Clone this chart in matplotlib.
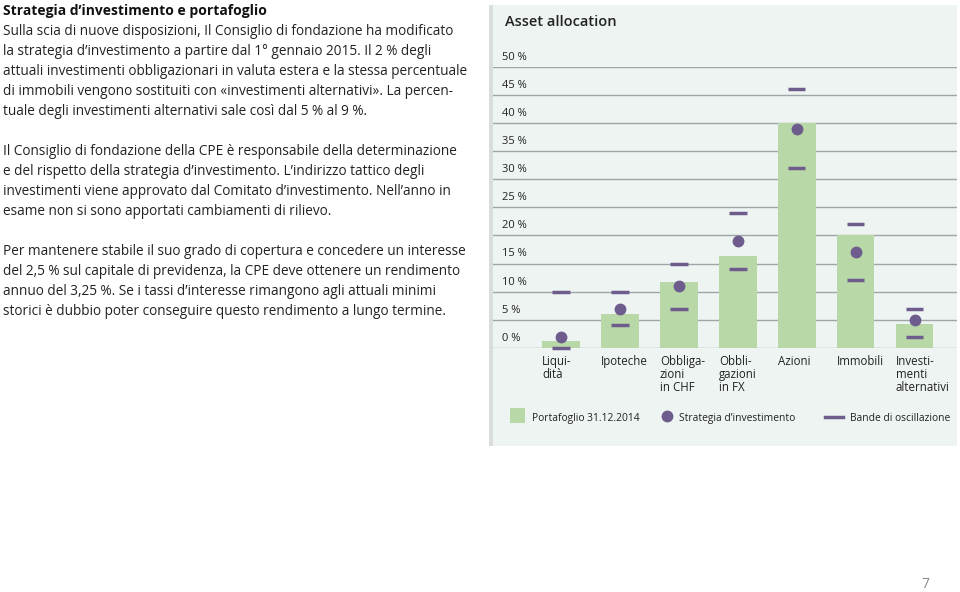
import matplotlib.pyplot as plt
from matplotlib.patches import Rectangle
from matplotlib.lines import Line2D
from matplotlib.transforms import blended_transform_factory, offset_copy

plt.rcParams['font.family'] = ['Open Sans', 'DejaVu Sans']

# dati (in %)
categories = ["Liqui-\ndità", "Ipoteche", "Obbliga-\nzioni\nin CHF", "Obbli-\ngazioni\nin FX",
              "Azioni", "Immobili", "Investi-\nmenti\nalternativi"]
portafoglio = [1.2, 6.0, 11.7, 16.4, 40.0, 20.0, 4.3]
strategia = [2, 7, 11, 19, 39, 17, 5]
banda_min = [0, 4, 7, 14, 32, 12, 2]
banda_max = [10, 10, 15, 24, 46, 22, 7]
y_ticks = [0, 5, 10, 15, 20, 25, 30, 35, 40, 45, 50]

titolo = "Strategia d\u2019investimento e portafoglio"
paragrafi = [
    "Sulla scia di nuove disposizioni, Il Consiglio di fondazione ha modificato\n"
    "la strategia d\u2019investimento a partire dal 1° gennaio 2015. Il 2 % degli\n"
    "attuali investimenti obbligazionari in valuta estera e la stessa percentuale\n"
    "di immobili vengono sostituiti con «investimenti alternativi». La percen-\n"
    "tuale degli investimenti alternativi sale così dal 5 % al 9 %.",
    "Il Consiglio di fondazione della CPE è responsabile della determinazione\n"
    "e del rispetto della strategia d\u2019investimento. L\u2019indirizzo tattico degli\n"
    "investimenti viene approvato dal Comitato d\u2019investimento. Nell\u2019anno in\n"
    "esame non si sono apportati cambiamenti di rilievo.",
    "Per mantenere stabile il suo grado di copertura e concedere un interesse\n"
    "del 2,5 % sul capitale di previdenza, la CPE deve ottenere un rendimento\n"
    "annuo del 3,25 %. Se i tassi d\u2019interesse rimangono agli attuali minimi\n"
    "storici è dubbio poter conseguire questo rendimento a lungo termine.",
]

verde = "#b8d8a8"
viola = "#6e5d8c"
W, H = 960, 592

fig = plt.figure(figsize=(9.6, 5.92), dpi=100)
fig.patch.set_facecolor("white")

# pannello del grafico
fig.add_artist(Rectangle((490 / W, 1 - 446 / H), 467 / W, 441 / H,
                         transform=fig.transFigure, facecolor="#eef4f2", edgecolor="none", zorder=0))
fig.add_artist(Rectangle((489 / W, 1 - 446 / H), 4 / W, 441 / H,
                         transform=fig.transFigure, facecolor="#d9dedc", edgecolor="none", zorder=0))

ax = fig.add_axes([493 / W, 1 - 348 / H, 464 / W, (348 - 66.7) / H])
ax.set_facecolor("none")
x = range(len(categories))
ax.set_xlim(-1.15, 6.72)
ax.set_ylim(0, 50)

for t in y_ticks:
    ax.axhline(t, color="#9ea6a6", lw=1.0, zorder=1)
tr = offset_copy(blended_transform_factory(ax.transAxes, ax.transData), fig=fig, y=3, units="points")
for t in y_ticks:
    ax.text(0.019, t, f"{t} %", transform=tr, fontsize=8, va="bottom", ha="left", color="#222222")

ax.bar(x, portafoglio, width=0.64, color=verde, zorder=2)
ax.hlines(banda_min, [i - 0.15 for i in x], [i + 0.15 for i in x], color=viola, lw=2.5, zorder=3, clip_on=False)
ax.hlines(banda_max, [i - 0.15 for i in x], [i + 0.15 for i in x], color=viola, lw=2.5, zorder=3)
ax.plot(x, strategia, "o", color=viola, markersize=7.5, zorder=4)

for i, lab in zip(x, categories):
    ax.annotate(lab, xy=(i - 0.32, 0), xycoords="data", xytext=(0, -5), textcoords="offset points",
                fontsize=8.3, va="top", ha="left", linespacing=0.98, color="#222222")

ax.set_xticks([])
ax.set_yticks([])
for s in ax.spines.values():
    s.set_visible(False)

fig.text(505 / W, 1 - 22 / H, "Asset allocation", fontsize=10.5, fontweight="semibold",
         va="center", ha="left", color="#222222")

# legenda
fig.add_artist(Rectangle((510 / W, 1 - 423 / H), 15 / W, 15 / H, transform=fig.transFigure,
                         facecolor=verde, edgecolor="none"))
fig.text(532 / W, 1 - 417 / H, "Portafoglio 31.12.2014", fontsize=7.4, va="center_baseline", color="#222222")
fig.add_artist(Line2D([667 / W], [1 - 416 / H], transform=fig.transFigure, marker="o",
                      markersize=7.5, color=viola, linestyle="none"))
fig.text(679 / W, 1 - 417 / H, "Strategia d\u2019investimento", fontsize=7.4, va="center_baseline", color="#222222")
fig.add_artist(Line2D([825 / W, 843 / W], [1 - 417 / H, 1 - 417 / H], transform=fig.transFigure,
                      color=viola, lw=2.5))
fig.text(850 / W, 1 - 417 / H, "Bande di oscillazione", fontsize=7.4, va="center_baseline", color="#222222")

# testo a sinistra
fig.text(3 / W, 1 - 11 / H, titolo, fontsize=10, fontweight="bold", va="center", ha="left", color="#111111")
y0 = [30, 150, 250]
for yy, par in zip(y0, paragrafi):
    fig.text(3 / W, 1 - (yy - 6) / H, par, fontsize=9.8, va="top", ha="left",
             linespacing=1.45, color="#222222")

fig.text(925 / W, 1 - 585 / H, "7", fontsize=10, color="#888888", va="center", ha="center")

fig.savefig("out.png", dpi=100)
